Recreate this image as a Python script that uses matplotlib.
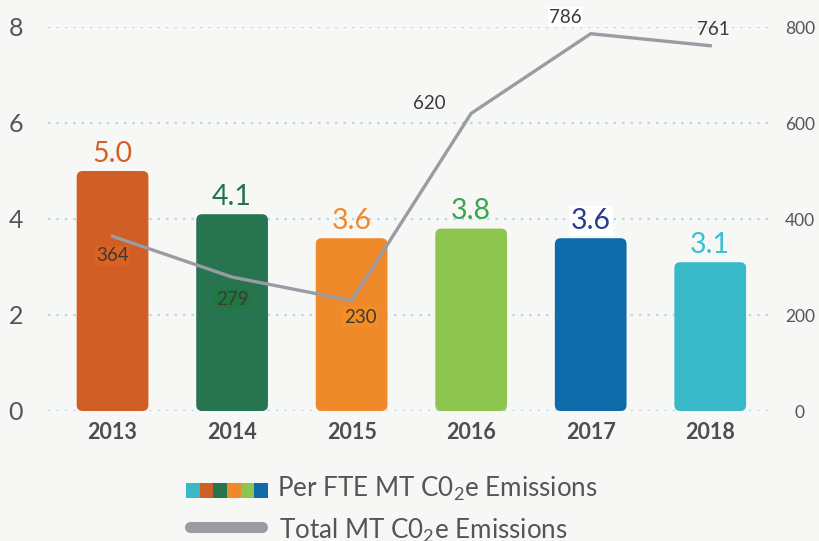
import matplotlib
matplotlib.use("Agg")
import matplotlib.pyplot as plt
from matplotlib.patches import FancyBboxPatch, Rectangle
from matplotlib.lines import Line2D

years = ["2013", "2014", "2015", "2016", "2017", "2018"]
per_fte = [5.0, 4.1, 3.6, 3.8, 3.6, 3.1]
total = [364, 279, 230, 620, 786, 761]
left_ticks = [0, 2, 4, 6, 8]
right_ticks = [0, 200, 400, 600, 800]

bar_colors = ["#d15e25", "#267550", "#ef8a2a", "#8dc54f", "#0f6baa", "#39b9c8"]
label_colors = ["#d45f27", "#25744f", "#f0892a", "#3aa64a", "#283d8c", "#3bbfd4"]
legend_strip = ["#39b9c8", "#d15e25", "#267550", "#ef8a2a", "#8dc54f", "#0f6baa"]

FONT = "Lato"
plt.rcParams["font.family"] = [FONT, "DejaVu Sans"]
plt.rcParams["mathtext.fontset"] = "custom"
plt.rcParams["mathtext.rm"] = FONT
plt.rcParams["mathtext.it"] = FONT
plt.rcParams["mathtext.bf"] = FONT

W, H = 819, 541
bg = "#f7f7f5"
fig = plt.figure(figsize=(W / 100, H / 100), dpi=100, facecolor=bg)

ax_l, ax_r, ax_t, ax_b = 48, 770, 27, 411
ax = fig.add_axes([ax_l / W, (H - ax_b) / H, (ax_r - ax_l) / W, (ax_b - ax_t) / H])
ax.set_facecolor(bg)
ax2 = ax.twinx()

x = list(range(len(years)))
ax.set_xlim(-0.54, 5.5)
ax.set_ylim(0, 8)
ax2.set_ylim(0, 800)

# grid
for v in left_ticks:
    ax.axhline(v, color="#a6d9f2", lw=1.6, ls=(0, (1, 2.8)), zorder=0)

# rounded bars
bw = 0.6
for xi, v, c in zip(x, per_fte, bar_colors):
    p = FancyBboxPatch((xi - bw / 2, 0), bw, v,
                       boxstyle="round,pad=0,rounding_size=0.05",
                       mutation_aspect=2.5, fc=c, ec="none", zorder=2)
    ax.add_patch(p)
    bbox = None
    if xi == 4:
        bbox = dict(fc="white", ec="none", pad=1.5)
    ax.annotate(f"{v:.1f}", (xi, v), xytext=(0, 3), textcoords="offset points",
                ha="center", va="bottom", fontsize=20.5, color=label_colors[xi],
                bbox=bbox, zorder=3)

# line
ax2.plot(x, total, color="#9a9ca3", lw=2.4, zorder=4, solid_joinstyle="miter")
offsets = [(0, -14), (0, -16), (6, -12), (-30, 7), (-18, 12), (2, 12)]
lbl_bg = ["#dc631f", "#20773f", "#f48d22", None, "white", None]
for xi, v, off, b in zip(x, total, offsets, lbl_bg):
    bbox = dict(fc=b, ec="none", pad=1.0) if b else None
    ax2.annotate(str(v), (xi, v), xytext=off, textcoords="offset points",
                 ha="center", va="center", fontsize=13.5, color="#3a3a3a",
                 bbox=bbox, zorder=5)

# ticks
ax.set_xticks(x)
ax.set_xticklabels(years, fontsize=15.5, fontweight="bold", color="#4d4d4f")
ax.set_yticks(left_ticks)
ax.set_yticklabels([str(t) for t in left_ticks], fontsize=18, color="#555555")
ax2.set_yticks(right_ticks)
ax2.set_yticklabels([str(t) for t in right_ticks], fontsize=12.5, color="#555555")
ax.tick_params(axis="x", length=0, pad=8)
ax.tick_params(axis="y", length=0, pad=18)
for lab in ax2.get_yticklabels():
    lab.set_horizontalalignment("center")
ax2.tick_params(axis="y", length=0, pad=21.5)
for a in (ax, ax2):
    for s in a.spines.values():
        s.set_visible(False)
ax.set_zorder(1)
ax2.set_zorder(2)
ax2.patch.set_visible(False)

# legend
sq_x0, sq_x1, sq_y0, sq_y1 = 186, 268, 483, 498
sw = (sq_x1 - sq_x0) / len(legend_strip)
for i, c in enumerate(legend_strip):
    fig.add_artist(Rectangle(((sq_x0 + i * sw) / W, (H - sq_y1) / H), sw / W,
                             (sq_y1 - sq_y0) / H, transform=fig.transFigure,
                             fc=c, ec="none"))
fig.add_artist(Line2D([190 / W, 262 / W], [(H - 527) / H] * 2, transform=fig.transFigure,
                      color="#9a9ca3", lw=8, solid_capstyle="round"))
fig.text(277 / W, (H - 497) / H, "Per FTE MT C0$_2$e Emissions", fontsize=18.7,
         color="#555555", va="baseline", ha="left")
fig.text(279 / W, (H - 539) / H, "Total MT C0$_2$e Emissions", fontsize=18.7,
         color="#555555", va="baseline", ha="left")

fig.savefig("out.png", dpi=100, facecolor=bg)
